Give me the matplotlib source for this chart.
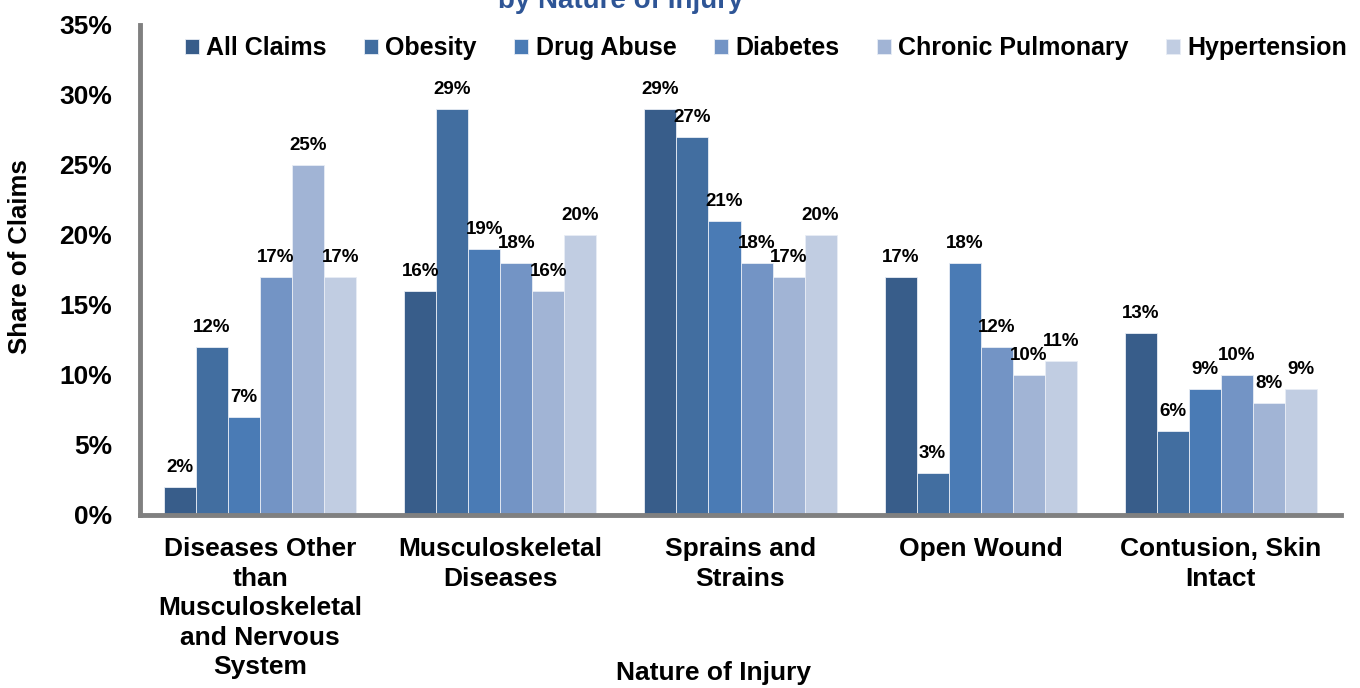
import matplotlib
matplotlib.use("Agg")
import matplotlib.pyplot as plt
import numpy as np

categories = ["Diseases Other\nthan\nMusculoskeletal\nand Nervous\nSystem",
              "Musculoskeletal\nDiseases", "Sprains and\nStrains",
              "Open Wound", "Contusion, Skin\nIntact"]
series_names = ["All Claims", "Obesity", "Drug Abuse", "Diabetes",
                "Chronic Pulmonary", "Hypertension"]
all_claims = [2, 16, 29, 17, 13]
obesity = [12, 29, 27, 3, 6]
drug_abuse = [7, 19, 21, 18, 9]
diabetes = [17, 18, 18, 12, 10]
chronic_pulmonary = [25, 16, 17, 10, 8]
hypertension = [17, 20, 20, 11, 9]
yticks = [0, 5, 10, 15, 20, 25, 30, 35]

series = [all_claims, obesity, drug_abuse, diabetes, chronic_pulmonary, hypertension]
colors = ["#385D8A", "#426EA0", "#4A7BB5", "#7394C5", "#A1B4D5", "#C1CDE2"]

plt.rcParams['font.family'] = ['Liberation Sans', 'DejaVu Sans']
plt.rcParams['font.weight'] = 'bold'

fig = plt.figure(figsize=(13.6, 6.88), dpi=100)
ax = fig.add_axes([140/1360, 1-515/688, (1341-140)/1360, (515-25)/688])

x = np.arange(len(categories))
n = len(series)
w = 0.8 / n
for i, (vals, c, name) in enumerate(zip(series, colors, series_names)):
    pos = x - 0.4 + w * (i + 0.5)
    ax.bar(pos, vals, width=w, color=c, edgecolor="#E8EDF5", linewidth=0.6, label=name)
    for p, v in zip(pos, vals):
        ax.annotate(f"{v}%", (p, v), xytext=(0, 8), textcoords="offset points",
                    ha="center", va="bottom", fontsize=13.5, fontweight="bold")

ax.set_xlim(-0.5, len(categories) - 0.5)
ax.set_ylim(0, 35)
ax.set_yticks(yticks)
ax.set_yticklabels([f"{t}%" for t in yticks], fontsize=19, fontweight="bold")
ax.set_xticks(x)
ax.set_xticklabels(categories, fontsize=19, fontweight="bold", linespacing=1.29)
ax.tick_params(axis="y", length=0, pad=20)
ax.tick_params(axis="x", length=0, pad=16)
for s in ["top", "right"]:
    ax.spines[s].set_visible(False)
for s in ["left", "bottom"]:
    ax.spines[s].set_color("#808080")
    ax.spines[s].set_linewidth(3.5)

fig.text(20/1360, 1-257/688, "Share of Claims", rotation=90, ha="center", va="center",
         fontsize=18.5, fontweight="bold")
fig.text(714/1360, 1-673/688, "Nature of Injury", ha="center", va="center",
         fontsize=19, fontweight="bold")
fig.text(621/1360, 1-1/688, "by Nature of Injury", ha="center", va="center",
         fontsize=20, fontweight="bold", color="#2E5596")

leg = fig.legend(loc="center right", bbox_to_anchor=(1347/1360, 1-48/688), ncol=6, frameon=False,
                 fontsize=18, handlelength=0.55, handleheight=0.55, handletextpad=0.3,
                 columnspacing=1.5, borderaxespad=0, borderpad=0)
for t in leg.get_texts():
    t.set_fontweight("bold")

fig.savefig("out.png", dpi=100)
